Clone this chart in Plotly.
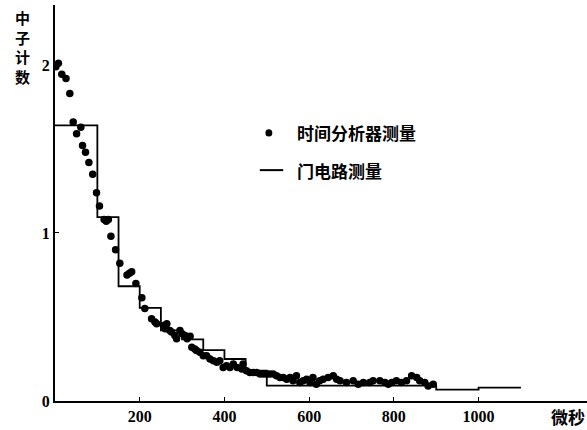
import plotly.graph_objects as go

# 门电路测量 (step histogram): left edges and levels
gate_x = [0, 100, 150, 200, 250, 300, 350, 400, 450, 500, 900, 1000, 1100]
gate_y = [1.64, 1.095, 0.683, 0.554, 0.42, 0.367, 0.303, 0.25, 0.18, 0.092, 0.068, 0.08, 0.08]

# 时间分析器测量 (dots)
dot_x = [2, 8, 16, 26, 35, 43, 51, 61, 65, 72, 80, 89, 98, 105, 116, 121, 126, 132, 143, 153,
         170, 176, 181, 191, 205, 212, 228, 236, 240,
         256, 260, 264, 271, 275, 283, 287, 295, 300, 307, 312, 319, 323, 330, 334, 342, 350,
         358, 366, 374, 382, 389, 397,
         405, 413, 421, 430, 441, 444, 452, 460, 468, 476, 484, 492, 500, 507, 515, 523, 531,
         539, 547, 555, 562, 570, 578, 586, 594, 602, 609, 617, 625, 633, 645,
         657, 665, 673, 688, 704, 716, 728, 743, 751, 767, 779, 787, 795, 806, 818, 830, 842,
         854, 861, 873, 881, 893]
dot_y = [1.99, 2.01, 1.945, 1.92, 1.83, 1.66, 1.59, 1.63, 1.52, 1.48, 1.42, 1.35, 1.24, 1.16, 1.08, 1.07, 1.08, 0.98, 0.90, 0.82,
         0.75, 0.76, 0.77, 0.70, 0.615, 0.55, 0.49, 0.47, 0.46,
         0.45, 0.43, 0.46, 0.42, 0.41, 0.39, 0.37, 0.42, 0.40, 0.39, 0.37, 0.385, 0.32, 0.31, 0.30, 0.29, 0.27,
         0.27, 0.25, 0.24, 0.23, 0.24, 0.20,
         0.21, 0.20, 0.22, 0.20, 0.19, 0.22, 0.18, 0.17, 0.17, 0.17, 0.16, 0.16, 0.16, 0.16, 0.16, 0.15, 0.14,
         0.14, 0.13, 0.14, 0.12, 0.15, 0.11, 0.12, 0.13, 0.11, 0.14, 0.10, 0.12, 0.13, 0.14,
         0.15, 0.13, 0.12, 0.11, 0.12, 0.10, 0.11, 0.11, 0.12, 0.12, 0.11, 0.10, 0.11, 0.12, 0.11, 0.12, 0.15,
         0.14, 0.12, 0.11, 0.09, 0.10]

x_ticks = [200, 400, 600, 800, 1000]
y_ticks = [0, 1, 2]

fig = go.Figure()
fig.add_trace(go.Scatter(x=gate_x, y=gate_y, mode="lines", line=dict(shape="hv", color="black", width=1.8),
                         showlegend=False))
fig.add_trace(go.Scatter(x=dot_x, y=dot_y, mode="markers", marker=dict(color="black", size=7.5),
                         showlegend=False))

tick_font = dict(family="Liberation Serif", size=16, color="black")
fig.update_xaxes(range=[0, 1256], tickvals=x_ticks, ticktext=[f"<b>{v}</b>" for v in x_ticks],
                 showline=True, linecolor="black", linewidth=2, ticks="inside", ticklen=4,
                 tickcolor="black", showgrid=False, zeroline=False, tickfont=tick_font)
fig.update_yaxes(range=[0, 2.357], tickvals=y_ticks, ticktext=[f"<b>{v}</b>" for v in y_ticks],
                 showline=True, linecolor="black", linewidth=2, ticks="inside", ticklen=4,
                 tickcolor="black", showgrid=False, zeroline=False, tickfont=tick_font)

cjk = "Noto Sans CJK SC"
fig.add_annotation(xref="paper", yref="paper", x=0.451, y=0.677, xanchor="left", yanchor="middle",
                   text="<b>时间分析器测量</b>", showarrow=False, font=dict(family=cjk, size=17, color="black"))
fig.add_annotation(xref="paper", yref="paper", x=0.451, y=0.583, xanchor="left", yanchor="middle",
                   text="<b>门电路测量</b>", showarrow=False, font=dict(family=cjk, size=17, color="black"))
fig.add_shape(type="circle", xref="paper", yref="paper", x0=0.3955, x1=0.4085, y0=0.668, y1=0.686,
              fillcolor="black", line=dict(color="black", width=0))
fig.add_shape(type="line", xref="paper", yref="paper", x0=0.385, x1=0.429, y0=0.583, y1=0.583,
              line=dict(color="black", width=2))
fig.add_annotation(xref="paper", yref="paper", x=-0.062, y=0.893, xanchor="center", yanchor="middle",
                   text="<b>中<br>子<br>计<br>数</b>", showarrow=False,
                   font=dict(family=cjk, size=15, color="black"))
fig.add_annotation(xref="paper", yref="paper", x=0.928, y=-0.038, xanchor="left", yanchor="middle",
                   text="<b>微秒</b>", showarrow=False, font=dict(family=cjk, size=17, color="black"))

fig.update_layout(width=587, height=430, margin=dict(l=55, r=0, t=5, b=29),
                  plot_bgcolor="white", paper_bgcolor="white")
fig.write_html("out.html", config={"displayModeBar": False},
               post_script="document.body.style.margin='0';document.body.style.overflow='hidden';")
